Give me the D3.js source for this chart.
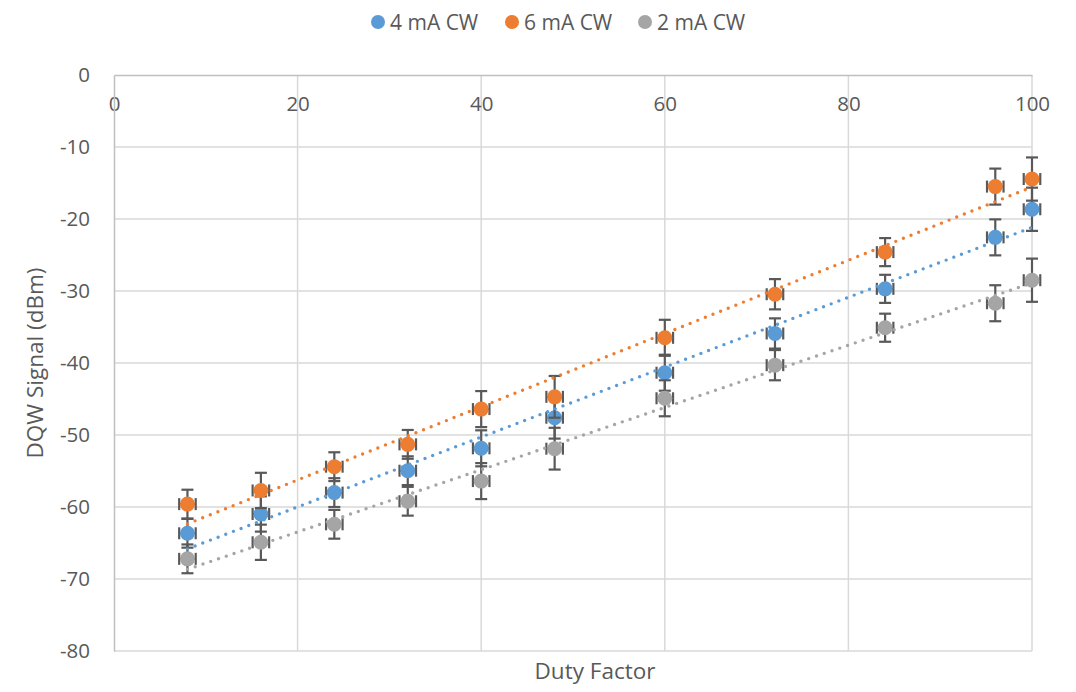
<!DOCTYPE html>
<html>
<head>
<meta charset="utf-8">
<script src="https://cdn.jsdelivr.net/npm/d3@7"></script>
<style>
  html, body { margin: 0; padding: 0; background: #fff; }
  svg { display: block; font-family: "Open Sans", "Noto Sans", sans-serif; }
</style>
</head>
<body>
<svg id="chart" width="1076" height="692"></svg>
<script>
// Duty factor (%) at which each measurement was taken
const dutyFactor = [8, 16, 24, 32, 40, 48, 60, 72, 84, 96, 100];

// DQW signal (dBm) per drive current
const signal4mA = [-63.65, -60.97, -58.0, -54.96, -51.85, -47.6, -41.35, -35.9, -29.7, -22.55, -18.65];
const signal6mA = [-59.6, -57.7, -54.4, -51.3, -46.4, -44.7, -36.5, -30.45, -24.6, -15.5, -14.45];
const signal2mA = [-67.2, -64.9, -62.4, -59.2, -56.4, -51.9, -44.9, -40.3, -35.1, -31.7, -28.5];

// Measurement uncertainty: vertical (dB) per duty factor, horizontal (%) fixed
const signalError = [2.0, 2.45, 2.0, 2.0, 2.5, 2.9, 2.5, 2.1, 1.95, 2.5, 3.0];
const dutyError = 0.9;

const seriesNames = ["4 mA CW", "6 mA CW", "2 mA CW"];
const seriesColors = ["#5b9bd5", "#ed7d31", "#a5a5a5"];
const seriesValues = [signal4mA, signal6mA, signal2mA];

const xTicks = [0, 20, 40, 60, 80, 100];
const yTicks = [0, -10, -20, -30, -40, -50, -60, -70, -80];

const svg = d3.select("#chart");
const plotLeft = 114, plotRight = 1032, plotTop = 75, plotBottom = 651;
const textColor = "#595959";

const x = d3.scaleLinear().domain([0, 100]).range([plotLeft, plotRight]);
const y = d3.scaleLinear().domain([-80, 0]).range([plotBottom, plotTop]);

// Gridlines
const grid = svg.append("g");
grid.selectAll("line.h").data(yTicks.filter(t => t !== 0)).join("line")
  .attr("x1", plotLeft).attr("x2", plotRight)
  .attr("y1", d => y(d)).attr("y2", d => y(d))
  .attr("stroke", "#d9d9d9").attr("stroke-width", 1.5);
grid.selectAll("line.v").data(xTicks.filter(t => t !== 0)).join("line")
  .attr("x1", d => x(d)).attr("x2", d => x(d))
  .attr("y1", plotTop).attr("y2", plotBottom)
  .attr("stroke", "#d9d9d9").attr("stroke-width", 1.5);

// Axes: x axis sits on y = 0 (top), y axis on x = 0 (left); plain hyphen minus
const plain = d => String(d);
const xAxis = svg.append("g").attr("transform", `translate(0,${y(0)})`)
  .call(d3.axisBottom(x).tickValues(xTicks).tickFormat(plain).tickSize(0).tickPadding(21));
const yAxis = svg.append("g").attr("transform", `translate(${x(0)},0)`)
  .call(d3.axisLeft(y).tickValues(yTicks).tickFormat(plain).tickSize(0).tickPadding(24));
[xAxis, yAxis].forEach(g => {
  g.select(".domain").attr("stroke", "#bfbfbf").attr("stroke-width", 1.5);
  g.selectAll("text").attr("fill", textColor).attr("font-size", 20.5)
    .attr("font-family", "'Open Sans', sans-serif");
});

// Axis titles
svg.append("text").attr("x", 595).attr("y", 679)
  .attr("text-anchor", "middle").attr("fill", textColor).attr("font-size", 22.5)
  .text("Duty Factor");
svg.append("text")
  .attr("transform", `translate(43,${(plotTop + plotBottom) / 2}) rotate(-90)`)
  .attr("text-anchor", "middle").attr("fill", textColor).attr("font-size", 22.5)
  .text("DQW Signal (dBm)");

// Least-squares linear fit for each series
function linearFit(xs, ys) {
  const mx = d3.mean(xs), my = d3.mean(ys);
  const sxy = d3.sum(xs, (v, i) => (v - mx) * (ys[i] - my));
  const sxx = d3.sum(xs, v => (v - mx) * (v - mx));
  const slope = sxy / sxx;
  return xv => my + slope * (xv - mx);
}

const errColor = "#595959";
const cap = 6;

seriesValues.forEach((vals, s) => {
  const pts = dutyFactor.map((d, i) => ({ x: d, y: vals[i], e: signalError[i] }));
  const g = svg.append("g");
  // vertical error bars
  g.selectAll("line.ev").data(pts).join("line")
    .attr("x1", d => x(d.x)).attr("x2", d => x(d.x))
    .attr("y1", d => y(d.y + d.e)).attr("y2", d => y(d.y - d.e))
    .attr("stroke", errColor).attr("stroke-width", 2.2);
  g.selectAll("line.evt").data(pts).join("line")
    .attr("x1", d => x(d.x) - cap).attr("x2", d => x(d.x) + cap)
    .attr("y1", d => y(d.y + d.e)).attr("y2", d => y(d.y + d.e))
    .attr("stroke", errColor).attr("stroke-width", 2.2);
  g.selectAll("line.evb").data(pts).join("line")
    .attr("x1", d => x(d.x) - cap).attr("x2", d => x(d.x) + cap)
    .attr("y1", d => y(d.y - d.e)).attr("y2", d => y(d.y - d.e))
    .attr("stroke", errColor).attr("stroke-width", 2.2);
  // horizontal error bars
  g.selectAll("line.eh").data(pts).join("line")
    .attr("x1", d => x(d.x - dutyError)).attr("x2", d => x(d.x + dutyError))
    .attr("y1", d => y(d.y)).attr("y2", d => y(d.y))
    .attr("stroke", errColor).attr("stroke-width", 2.2);
  g.selectAll("line.ehl").data(pts).join("line")
    .attr("x1", d => x(d.x - dutyError)).attr("x2", d => x(d.x - dutyError))
    .attr("y1", d => y(d.y) - cap).attr("y2", d => y(d.y) + cap)
    .attr("stroke", errColor).attr("stroke-width", 2.2);
  g.selectAll("line.ehr").data(pts).join("line")
    .attr("x1", d => x(d.x + dutyError)).attr("x2", d => x(d.x + dutyError))
    .attr("y1", d => y(d.y) - cap).attr("y2", d => y(d.y) + cap)
    .attr("stroke", errColor).attr("stroke-width", 2.2);
  // markers
  g.selectAll("circle").data(pts).join("circle")
    .attr("cx", d => x(d.x)).attr("cy", d => y(d.y)).attr("r", 7.5)
    .attr("fill", seriesColors[s]);
});

// Dotted trendlines across the measured range
seriesValues.forEach((vals, s) => {
  const fit = linearFit(dutyFactor, vals);
  const x0 = d3.min(dutyFactor), x1 = d3.max(dutyFactor);
  svg.append("line")
    .attr("x1", x(x0)).attr("y1", y(fit(x0)))
    .attr("x2", x(x1)).attr("y2", y(fit(x1)))
    .attr("stroke", seriesColors[s]).attr("stroke-width", 3.4)
    .attr("stroke-linecap", "round").attr("stroke-dasharray", "0 8.2");
});

// Legend
const legendX = [378, 512, 645];
const legend = svg.append("g");
seriesNames.forEach((name, i) => {
  legend.append("circle").attr("cx", legendX[i]).attr("cy", 22).attr("r", 7)
    .attr("fill", seriesColors[i]);
  legend.append("text").attr("x", legendX[i] + 12).attr("y", 22)
    .attr("dominant-baseline", "central").attr("fill", textColor).attr("font-size", 21)
    .text(name);
});
</script>
</body>
</html>
